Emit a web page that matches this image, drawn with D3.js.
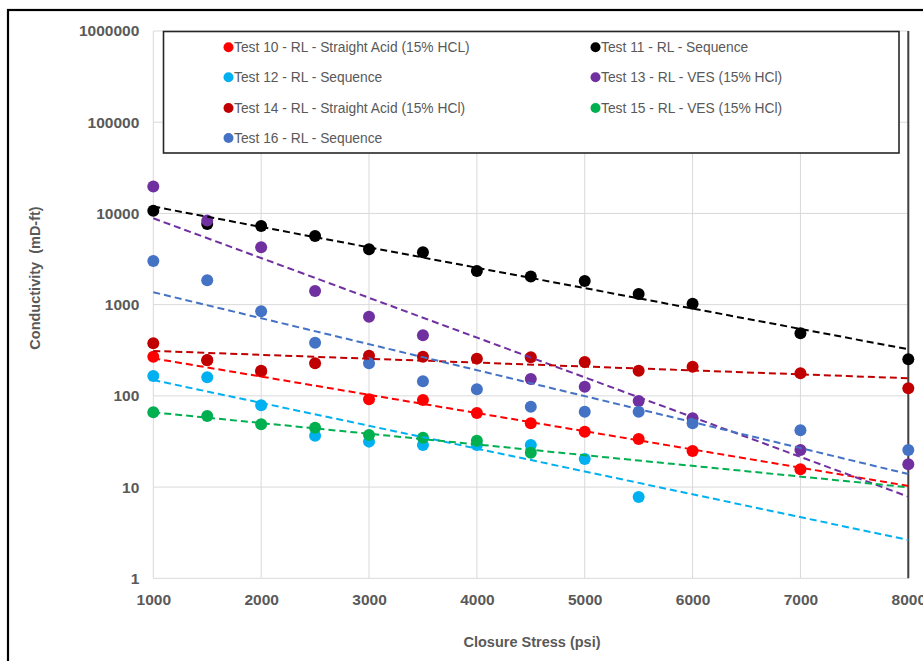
<!DOCTYPE html>
<html><head><meta charset="utf-8">
<script src="https://cdn.jsdelivr.net/npm/d3@7"></script>
<style>body{margin:0;background:#fff}svg{display:block}</style>
</head><body>
<svg id="c" width="923" height="661"></svg>
<script>
const stress = [1000,1500,2000,2500,3000,3500,4000,4500,5000,5500,6000,7000,8000];
const xTicks = [1000,2000,3000,4000,5000,6000,7000,8000];
const yTicks = [1,10,100,1000,10000,100000,1000000];
const seriesNames = [
  "Test 10 - RL - Straight Acid (15% HCL)",
  "Test 11 - RL - Sequence",
  "Test 12 - RL - Sequence",
  "Test 13 - RL - VES (15% HCl)",
  "Test 14 - RL - Straight Acid (15% HCl)",
  "Test 15 - RL - VES (15% HCl)",
  "Test 16 - RL - Sequence"
];
const seriesColors = ["#FF0000","#000000","#00B0F0","#7030A0","#C00000","#00B050","#4472C4"];
const test10 = [269,245,185,null,92,90,65,50,40.5,33.7,24.9,15.7,null];
const test11 = [10730,7670,7290,5670,4045,3750,2344,2030,1820,1310,1025,486,252];
const test12 = [165,160,79,36.6,31.5,29,29,29,20.3,7.8,null,null,null];
const test13 = [19700,8340,4260,1413,738,462,null,153,126,88,57,25.5,17.8];
const test14 = [377,248,189,228,276,269,256,265,235,189,209,177,121];
const test15 = [66,60,48.8,44.8,37.3,34.8,32.3,23.8,null,null,null,null,null];
const test16 = [3015,1853,847,383,228,145,118,76,67,67,50,42,25.5];
// exponential trendline values read at 1000 and 8000 psi
const trendStart = [258,11900,149,8850,311,66,1368];
const trendEnd   = [10.3,324,2.63,7.85,156,9.95,13.9];
const trendX = [1000,8000];

const seriesValues = [test10,test11,test12,test13,test14,test15,test16];

const svg = d3.select("#c");
const font = "'Liberation Sans', Arial, sans-serif";
const x = d3.scaleLinear().domain([1000,8000]).range([153.3,908.3]);
const y = d3.scaleLog().domain([1,1000000]).range([578.3,31]);

// outer frame
svg.append("rect").attr("x",8).attr("y",10).attr("width",1000).attr("height",1000)
  .attr("fill","none").attr("stroke","#000").attr("stroke-width",2.2);

// gridlines
svg.append("g").selectAll("line").data(xTicks).join("line")
  .attr("x1",d=>x(d)).attr("x2",d=>x(d)).attr("y1",y(1e6)).attr("y2",y(1))
  .attr("stroke","#D9D9D9").attr("stroke-width",1);
svg.append("g").selectAll("line").data(yTicks).join("line")
  .attr("x1",x(1000)).attr("x2",x(8000)).attr("y1",d=>y(d)).attr("y2",d=>y(d))
  .attr("stroke","#D9D9D9").attr("stroke-width",1);

// right plot border
svg.append("line").attr("x1",x(8000)).attr("x2",x(8000)).attr("y1",y(1e6)).attr("y2",y(1))
  .attr("stroke","#404040").attr("stroke-width",2);

// axes
const yAxis = d3.axisLeft(y).tickValues(yTicks).tickFormat(d3.format("d")).tickSize(0).tickPadding(14);
const gy = svg.append("g").attr("transform",`translate(${x(1000)},0)`).call(yAxis);
gy.select(".domain").remove();
gy.selectAll("text").attr("font-family",font).attr("font-size","15.5px").attr("font-weight","bold").attr("fill","#595959");

const xAxis = d3.axisBottom(x).tickValues(xTicks).tickFormat(d3.format("d")).tickSize(0).tickPadding(16);
const gx = svg.append("g").attr("transform",`translate(0,${y(1)})`).call(xAxis);
gx.select(".domain").remove();
gx.selectAll("text").attr("font-family",font).attr("font-size","15.5px").attr("font-weight","bold").attr("fill","#595959");

// axis titles
svg.append("text").attr("x",532).attr("y",647).attr("text-anchor","middle")
  .attr("font-family",font).attr("font-size","14.5px").attr("font-weight","bold").attr("fill","#595959")
  .text("Closure Stress (psi)");
svg.append("text").attr("transform","translate(40,278) rotate(-90)").attr("text-anchor","middle")
  .attr("font-family",font).attr("font-size","14.5px").attr("font-weight","bold").attr("fill","#595959")
  .attr("xml:space","preserve").style("white-space","pre")
  .text("Conductivity  (mD-ft)");

// points
seriesValues.forEach((vals,i)=>{
  const pts = stress.map((s,j)=>({s,v:vals[j]})).filter(d=>d.v!=null);
  svg.append("g").selectAll("circle").data(pts).join("circle")
    .attr("cx",d=>x(d.s)).attr("cy",d=>y(d.v)).attr("r",6)
    .attr("fill",seriesColors[i]);
});

// trendlines
const line = d3.line().x(d=>x(d[0])).y(d=>y(d[1]));
seriesValues.forEach((vals,i)=>{
  svg.append("path").datum([[trendX[0],trendStart[i]],[trendX[1],trendEnd[i]]])
    .attr("d",line).attr("fill","none").attr("stroke",seriesColors[i])
    .attr("stroke-width",2).attr("stroke-dasharray","7,4");
});

// legend
const lg = svg.append("g");
lg.append("rect").attr("x",163.5).attr("y",31.5).attr("width",735.5).attr("height",121.5)
  .attr("fill","#fff").attr("stroke","#262626").attr("stroke-width",1.6);
const legX = [228.5,595.5];
const legY = [47.3,77.3,108,138];
seriesNames.forEach((n,i)=>{
  const col = i%2, row = Math.floor(i/2);
  const g = lg.append("g").attr("transform",`translate(${legX[col]},${legY[row]})`);
  g.append("circle").attr("r",5).attr("fill",seriesColors[i]);
  g.append("text").attr("x",5.5).attr("y",4.8).attr("font-family",font).attr("font-size","13.8px")
    .attr("fill","#595959").text(n);
});
</script>
</body></html>
